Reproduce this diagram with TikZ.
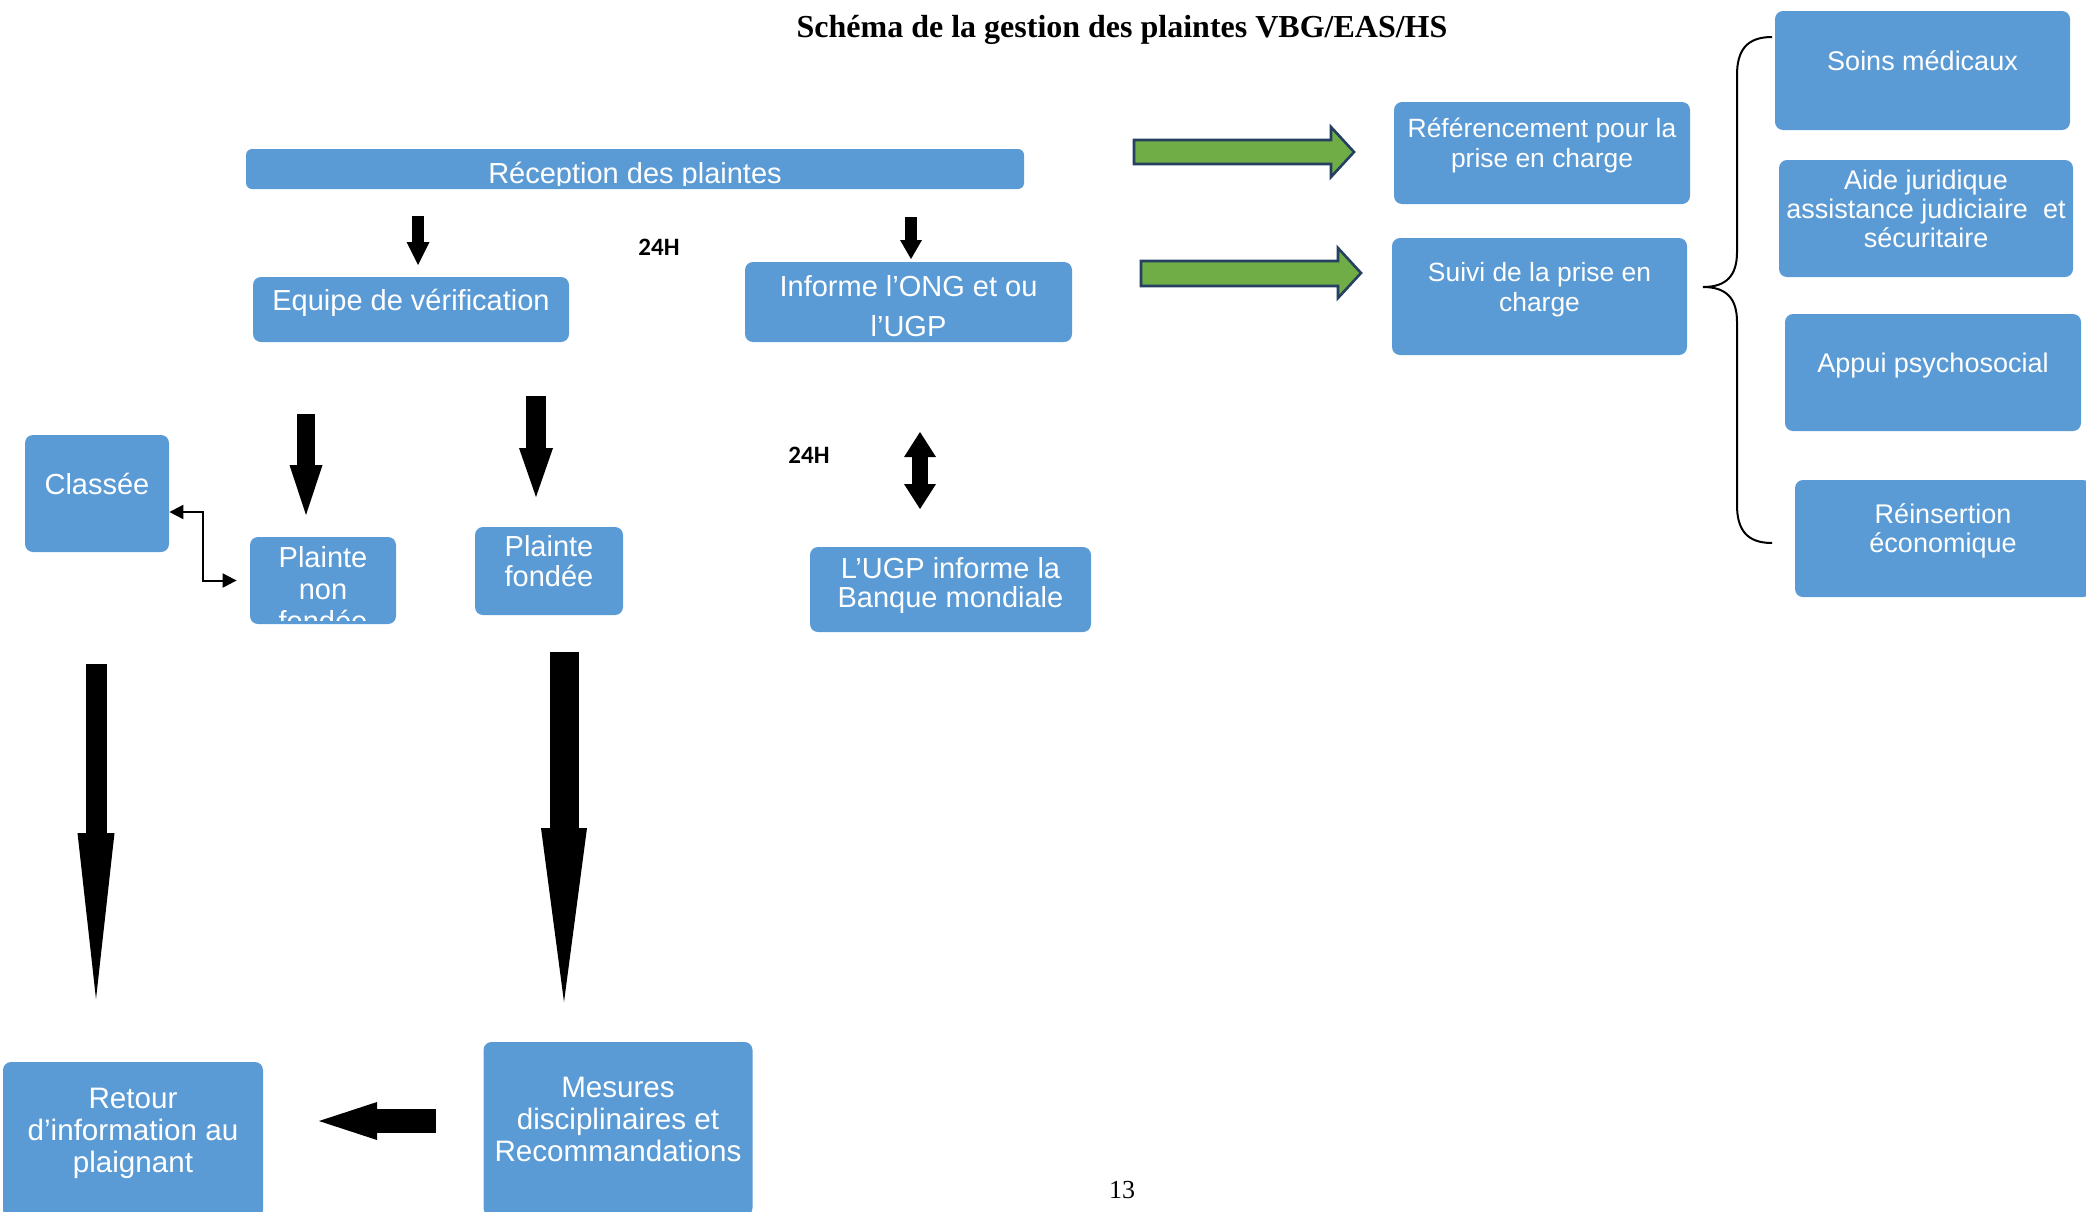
\documentclass[tikz,border=0pt]{standalone}
\usepackage{fontspec}
\setmainfont{Liberation Serif}
\newfontfamily\boxfont{Liberation Sans}
\newfontfamily\hourfont{Carlito}
\usetikzlibrary{arrows.meta}
\definecolor{boxblue}{RGB}{91,155,213}
\definecolor{arrgreen}{RGB}{112,173,71}
\definecolor{arrnavy}{RGB}{37,64,97}

\begin{document}
\begin{tikzpicture}[
  x=0.5pt, y=-0.5pt,
  box/.style={fill=boxblue, rounded corners=4pt, text=white, align=center,
              inner sep=1pt, text depth=10pt,
              font=\boxfont\fontsize{14.5}{15.5}\selectfont},
  side/.style={box, font=\boxfont\fontsize{13.5}{14.5}\selectfont},
  boxtxt/.style={text=white, align=center, inner sep=0pt, text depth=0pt,
                 font=\boxfont\fontsize{14.5}{16}\selectfont},
  hour/.style={font=\hourfont\bfseries\fontsize{12.5}{14}\selectfont},
  blk/.style n args={3}{draw=black, line width=#1,
                        -{Triangle[length=#2, width=#3, line width=0pt]}},
  dblk/.style n args={3}{draw=black, line width=#1,
                         {Triangle[length=#2, width=#3, line width=0pt]}-{Triangle[length=#2, width=#3, line width=0pt]}},
  elb/.style={line width=1pt,
              {Triangle[length=7pt, width=7pt]}-{Triangle[length=7pt, width=7pt]}},
  garr/.style={fill=arrgreen, draw=arrnavy, line width=1.3pt, line join=miter},
]
\useasboundingbox (0,0) rectangle (2086,1211);
\clip (0,0) rectangle (2086,1211);

% ---- title and page number ----
\node[font=\bfseries\fontsize{16}{19}\selectfont] (titre) at (1122,30)
  {Schéma de la gestion des plaintes VBG/EAS/HS};
\node[font=\fontsize{13}{15}\selectfont] (pagenum) at (1122,1190) {13};

% ---- reception and first split ----
\node[box, rounded corners=3pt, minimum width=389pt, minimum height=20pt] (recep) at (635,169) {};
\begin{scope}
  \clip (recep.north west) rectangle ([yshift=2pt]recep.south east);
  \node[boxtxt] (recept) at (635,173) {Réception des plaintes};
\end{scope}

\node[box, minimum width=158pt, minimum height=32.5pt] (equipe) at (411,309.5)
  {Equipe de vérification};
\node[box, text depth=0pt, text height=34pt, minimum width=163.5pt, minimum height=40pt,
      font=\boxfont\fontsize{14.5}{20}\selectfont] (informe) at (908.5,302)
  {Informe l’ONG et ou\\l’UGP};
\node[hour] (h1) at (659,247) {24H};
\node[hour] (h2) at (809,455) {24H};

\coordinate (v1a) at (418,216);  \coordinate (v1b) at (418,265);
\coordinate (v2a) at (911,217);  \coordinate (v2b) at (911,259);
\draw[blk={6.25pt}{11.5pt}{11.5pt}] (v1a) -- (v1b);
\draw[blk={6.25pt}{9.5pt}{11pt}] (v2a) -- (v2b);

% ---- verification outcomes ----
\node[box, minimum width=72pt, minimum height=58.5pt] (classee) at (97,493.5) {Classée};
\node[box, minimum width=73pt, minimum height=43.5pt] (pnf) at (323,580.5) {};
\begin{scope}
  \clip (pnf.north west) rectangle ([yshift=2pt]pnf.south east);
  \node[boxtxt] (pnft) at (323,589) {Plainte\\non\\fondée};
\end{scope}
\node[box, minimum width=74pt, minimum height=44pt,
      font=\boxfont\fontsize{14.5}{15}\selectfont] (pf) at (549,571) {Plainte\\fondée};
\node[box, text depth=7.5pt, minimum width=140.5pt, minimum height=42.5pt,
      font=\boxfont\fontsize{14.5}{14.5}\selectfont] (ugp) at (950.5,589.5)
  {L’UGP informe la\\Banque mondiale};

\coordinate (vaa) at (306,414);  \coordinate (vab) at (306,515);
\coordinate (vba) at (536,396);  \coordinate (vbb) at (536,497);
\coordinate (dba) at (920,432);  \coordinate (dbb) at (920,509);
\draw[blk={9.4pt}{25pt}{16.5pt}] (vaa) -- (vab);
\draw[blk={9.75pt}{24.5pt}{17pt}] (vba) -- (vbb);
\draw[dblk={8pt}{12.5pt}{16pt}] (dba) -- (dbb);
\draw[elb] ([yshift=-9.25pt]classee.east) -- ++(17pt,0) |- ([xshift=-6.5pt]pnf.west);

% ---- bottom row ----
\node[box, minimum width=130pt, minimum height=78pt,
      font=\boxfont\fontsize{14.8}{16}\selectfont] (retour) at (133,1140)
  {Retour\\d’information au\\plaignant};
\node[box, minimum width=134.5pt, minimum height=87pt,
      font=\boxfont\fontsize{14.8}{16}\selectfont] (mesures) at (618,1129)
  {Mesures\\disciplinaires et\\Recommandations};

\coordinate (lla) at (96,664);   \coordinate (llb) at (96,999);
\coordinate (lra) at (564,652);  \coordinate (lrb) at (564,1002);
\coordinate (bka) at (436,1121); \coordinate (bkb) at (319,1121);
\draw[blk={10.5pt}{83pt}{18.5pt}] (lla) -- (llb);
\draw[blk={14.5pt}{87pt}{23pt}] (lra) -- (lrb);
\draw[blk={12pt}{29pt}{19pt}] (bka) -- (bkb);

% ---- care (right column) ----
\draw[garr] (1134,140) -- (1331,140) -- (1331,127) -- (1354,152)
  -- (1331,177) -- (1331,164) -- (1134,164) -- cycle;
\draw[garr] (1141,261) -- (1338,261) -- (1338,248) -- (1361,273)
  -- (1338,298) -- (1338,286) -- (1141,286) -- cycle;

\node[box, minimum width=148pt, minimum height=51pt,
      font=\boxfont\fontsize{13.2}{15}\selectfont] (ref) at (1542,153)
  {Référencement pour la\\prise en charge};
\node[box, minimum width=147.5pt, minimum height=58.5pt,
      font=\boxfont\fontsize{13.2}{15}\selectfont] (suivi) at (1539.5,296.5)
  {Suivi de la prise en\\charge};

\draw[line width=1pt] (1772,37) .. controls (1747,37) and (1737,50) .. (1737,75)
  -- (1737,252) .. controls (1737,276) and (1726,287) .. (1703,287)
  .. controls (1726,287) and (1737,298) .. (1737,322)
  -- (1737,505) .. controls (1737,530) and (1747,543) .. (1772,543);

\node[side, minimum width=147.5pt, minimum height=59.5pt] (soins) at (1922.5,70.5)
  {Soins médicaux};
\node[side, minimum width=147pt, minimum height=58.5pt] (aide) at (1926,218.5)
  {Aide juridique\\assistance judiciaire~ et\\sécuritaire};
\node[side, minimum width=148pt, minimum height=58.5pt] (appui) at (1933,372.5)
  {Appui psychosocial};
\node[side, minimum width=148pt, minimum height=58.5pt] (reins) at (1943,538.5)
  {Réinsertion\\économique};
\end{tikzpicture}
\end{document}
